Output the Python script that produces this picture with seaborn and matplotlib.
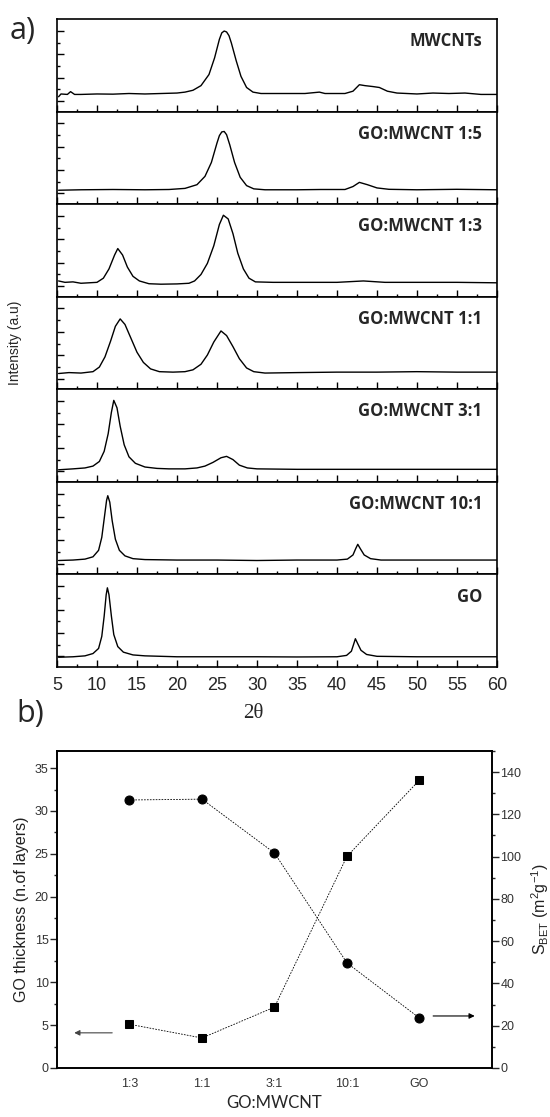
import numpy as np
import pandas as pd
import seaborn as sns
import matplotlib.pyplot as plt
from matplotlib.ticker import MultipleLocator

# ---- panel a: XRD patterns (2theta, intensity as % of panel height) ----
mwcnt_tt = [5.2, 5.5, 6.3, 6.7, 7.2, 8, 10, 12, 14, 16, 18, 20, 21, 22, 23, 24, 24.7, 25.3, 25.6, 25.9,
            26.2, 26.5, 26.8, 27.4, 28, 28.7, 29.5, 30.5, 33, 36, 37.8, 38.5, 41, 42, 42.8, 43.5, 44.5,
            45.3, 46.3, 47.5, 50, 52, 54, 56, 58, 60]
mwcnt_i = [16, 19, 18.5, 21.5, 18.5, 18.5, 19, 18.8, 19.5, 19, 19.5, 20, 21, 23, 28, 40, 58, 78, 85, 87,
           86, 82, 74, 55, 38, 26, 21, 19.5, 19.5, 19.5, 21, 19.5, 19.5, 22, 29, 28, 27,
           26, 22, 20, 19, 20, 19.5, 20, 18.5, 18.5]

r15_tt = [5.2, 8, 12, 16, 19, 21, 22.5, 23.5, 24.3, 25, 25.3, 25.6, 25.9, 26.2, 26.6, 27.2, 27.9, 28.7,
          29.6, 31, 35, 38, 41, 42, 42.8, 43.8, 45, 46.5, 50, 55, 60]
r15_i = [15, 15.5, 15.8, 15.5, 15.8, 17, 21, 30, 45, 66, 74, 78, 78.5, 75, 64, 45, 29, 20,
         16.5, 15.5, 15.5, 15.8, 15.8, 19, 23.5, 21, 17.5, 16, 15.5, 16, 15.5]

r13_tt = [5.2, 6, 7, 8, 9, 10, 10.8, 11.5, 12.2, 12.6, 13.2, 13.8, 14.5, 15.3, 16.5, 18, 20, 21.5, 22.2,
          23, 23.8, 24.6, 25.3, 25.8, 26.4, 27, 27.6, 28.3, 29, 29.8, 32, 36, 40, 43.3, 46, 50, 55, 60]
r13_i = [17, 15.5, 16, 14.5, 15, 15.5, 20, 30, 45, 52, 45, 32, 22, 17, 14, 13.5, 13.8, 14.5, 17,
         24, 36, 55, 78, 88, 84, 68, 47, 30, 20, 16, 15.5, 15.5, 15.5, 17, 15.5, 15.5, 15.5, 15]

r11_tt = [5.2, 6.5, 8, 9.5, 10.3, 11, 11.7, 12.3, 12.9, 13.5, 14.2, 15, 15.8, 16.7, 17.8, 19.5, 21, 22,
          23, 23.8, 24.6, 25.5, 26.2, 27, 27.8, 28.7, 29.6, 31, 35, 40, 45, 50, 55, 60]
r11_i = [17, 18, 17.5, 19, 24, 35, 52, 68, 76, 70, 56, 40, 29, 22, 19, 18.5, 19, 21,
         27, 37, 51, 63, 58, 46, 33, 23, 19, 17.5, 18, 18.5, 18.5, 19, 18.5, 18.5]

r31_tt = [5.2, 7, 8.5, 9.5, 10.3, 10.9, 11.4, 11.8, 12.1, 12.5, 12.9, 13.4, 14, 14.8, 16, 17.5, 19, 21,
          22.5, 23.5, 24.5, 25.5, 26.2, 27, 27.8, 28.8, 30, 35, 40, 45, 50, 55, 60]
r31_i = [13, 14, 15, 17, 22, 33, 52, 75, 88, 80, 60, 40, 27, 20, 16, 14.5, 14, 14,
         15, 17, 21, 26, 27.5, 24, 18, 15, 14, 13.5, 13.5, 13.5, 13.5, 13.5, 13.5]

r101_tt = [5.2, 7, 8.5, 9.5, 10.2, 10.6, 10.9, 11.2, 11.35, 11.6, 11.9, 12.3, 12.8, 13.5, 14.5, 16, 20,
           25, 30, 35, 40, 41.3, 42, 42.35, 42.6, 42.9, 43.4, 44.2, 45.5, 50, 55, 60]
r101_i = [15, 15.5, 16.5, 19, 26, 40, 60, 80, 85, 78, 58, 38, 26, 20, 17, 16, 15.5,
          15.5, 15, 15.5, 15.5, 16.5, 21, 28, 32.5, 28, 21, 17, 15.5, 15.5, 15.5, 15.5]

go_tt = [5.2, 7, 8.5, 9.5, 10.2, 10.6, 10.9, 11.15, 11.3, 11.5, 11.8, 12.1, 12.6, 13.3, 14.5, 16, 20,
         25, 30, 35, 40, 41.2, 41.8, 42.1, 42.3, 42.6, 43.0, 43.7, 45, 50, 55, 60]
go_i = [10.5, 11, 12, 14.5, 20, 33, 55, 78, 85.5, 78, 55, 35, 22, 16, 13, 12, 11,
        11, 11, 10.8, 11, 12.5, 17, 25, 30.5, 25, 18, 13.5, 11.5, 11, 11, 11]

xrd_labels = ["MWCNTs", "GO:MWCNT 1:5", "GO:MWCNT 1:3", "GO:MWCNT 1:1",
              "GO:MWCNT 3:1", "GO:MWCNT 10:1", "GO"]
xrd_data = [(mwcnt_tt, mwcnt_i), (r15_tt, r15_i), (r13_tt, r13_i), (r11_tt, r11_i),
            (r31_tt, r31_i), (r101_tt, r101_i), (go_tt, go_i)]

# ---- panel b ----
ratios = ["1:3", "1:1", "3:1", "10:1", "GO"]
thickness = [5.1, 3.5, 7.1, 24.7, 33.6]      # squares, left axis
s_bet = [126.8, 127.2, 101.7, 49.7, 23.6]    # circles, right axis

sns.set_style("ticks")
plt.rcParams['font.family'] = ['Liberation Sans', 'DejaVu Sans']
plt.rcParams['mathtext.fontset'] = 'custom'
plt.rcParams['mathtext.rm'] = 'Liberation Sans'
plt.rcParams['mathtext.it'] = 'Liberation Sans'

fig = plt.figure(figsize=(5.5, 11.17), dpi=100)
gs = fig.add_gridspec(7, 1, left=0.1036, right=0.9036, top=0.983, bottom=0.4029, hspace=0)

for k, (lab, (tt, inten)) in enumerate(zip(xrd_labels, xrd_data)):
    ax = fig.add_subplot(gs[k])
    sns.lineplot(x=tt, y=inten, ax=ax, color='black', linewidth=1.0, sort=False)
    ax.set_xlim(5, 60)
    ax.set_ylim(0, 100)
    ax.xaxis.set_major_locator(MultipleLocator(5))
    ax.xaxis.set_minor_locator(MultipleLocator(2.5))
    ax.set_yticks([11.5, 36.7, 62, 87.3])
    ax.set_yticks([24, 49.3, 74.6], minor=True)
    ax.set_yticklabels([])
    ax.tick_params(axis='both', which='major', direction='in', length=5, width=1, color='black')
    ax.tick_params(axis='both', which='minor', direction='in', length=2.5, width=1, color='black')
    ax.tick_params(top=False, right=False)
    for sp in ax.spines.values():
        sp.set_linewidth(1.2)
        sp.set_color('black')
    ax.set_xlabel('')
    ax.set_ylabel('')
    ax.text(0.966, 0.76, lab, transform=ax.transAxes, ha='right', va='center',
            fontsize=12, fontweight='bold', family='Open Sans')
    if k < 6:
        ax.set_xticklabels([])
    else:
        ax.tick_params(axis='x', which='major', labelsize=13, pad=7)

fig.text(15 / 550, 1 - 343 / 1117, "Intensity (a.u)", rotation=90, ha='center', va='center',
         fontsize=10)
fig.text(253 / 550, 1 - 713 / 1117, "2θ", ha='center', va='center', fontsize=15,
         family='Liberation Serif')
fig.text(23 / 550, 1 - 31 / 1117, "a)", ha='center', va='center', fontsize=22, family='Open Sans')
fig.text(30 / 550, 1 - 714 / 1117, "b)", ha='center', va='center', fontsize=22, family='Open Sans')

# ---- panel b ----
pos = np.arange(1, len(ratios) + 1)
axb = fig.add_axes([0.1036, 0.0439, 0.7909, 0.2838])
sns.lineplot(x=pos, y=thickness, ax=axb, color='black', marker='s', markersize=6,
             linestyle=(0, (2, 1.5)), linewidth=0.6, markeredgecolor='black')
axb.set_xlim(0, 6)
axb.set_ylim(0, 37)
axb.set_xticks(pos)
axb.set_xticklabels(ratios)
axb.yaxis.set_major_locator(MultipleLocator(5))
axb.yaxis.set_minor_locator(MultipleLocator(2.5))
axb.tick_params(axis='y', which='major', direction='out', length=5, width=1,
                labelsize=9, labelcolor='#333333', pad=1)
axb.tick_params(axis='y', which='minor', direction='out', length=2.5, width=1)
axb.tick_params(axis='x', direction='out', length=0, labelsize=9, labelcolor='#333333', pad=7)
axb.set_ylabel("GO thickness (n.of layers)", fontsize=11.5, color='#222222', labelpad=4)
axb.set_xlabel("GO:MWCNT", fontsize=12, family='Lato', labelpad=4)
for sp in axb.spines.values():
    sp.set_linewidth(1.2)
    sp.set_color('black')

axr = axb.twinx()
sns.lineplot(x=pos, y=s_bet, ax=axr, color='black', marker='o', markersize=6.5,
             linestyle=(0, (2, 1.5)), linewidth=0.6, markeredgecolor='black')
axr.set_ylim(0, 150)
axr.yaxis.set_major_locator(MultipleLocator(20))
axr.yaxis.set_minor_locator(MultipleLocator(10))
axr.tick_params(axis='y', which='major', direction='out', length=5, width=1,
                labelsize=9, labelcolor='#333333', pad=1)
axr.tick_params(axis='y', which='minor', direction='out', length=2.5, width=1)
axr.set_ylabel(r"S$_{\mathrm{BET}}$ (m$^{2}$g$^{-1}$)", fontsize=11.5, color='#222222', labelpad=6)
for sp in axr.spines.values():
    sp.set_linewidth(1.2)
    sp.set_color('black')

axb.annotate('', xy=(0.2, 4.1), xytext=(0.8, 4.1),
             arrowprops=dict(arrowstyle='-|>', color='#444444', lw=0.8, mutation_scale=8))
axr.annotate('', xy=(5.8, 24.6), xytext=(5.15, 24.6),
             arrowprops=dict(arrowstyle='-|>', color='black', lw=0.8, mutation_scale=8))

fig.savefig("out.png", dpi=100)
